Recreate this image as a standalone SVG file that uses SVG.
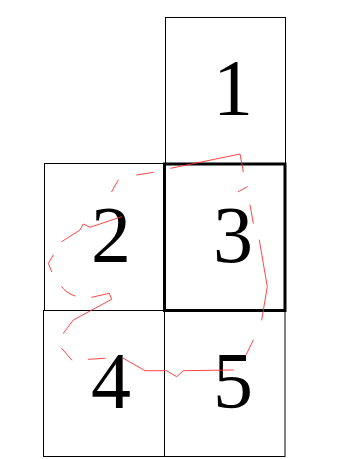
<svg xmlns="http://www.w3.org/2000/svg" width="345" height="459" viewBox="0 0 345 459">
<style>
.cell{fill:none;stroke:#000;stroke-width:1}
.thick{fill:none;stroke:#000;stroke-width:3}
.num{font-family:"Liberation Serif","Times New Roman",serif;font-size:80px;fill:#000;text-anchor:middle}
.scribble{fill:none;stroke:#ff3030;stroke-width:0.9;stroke-linecap:round;stroke-linejoin:round}
</style>
<rect width="345" height="459" fill="#fff"/>
<g id="node1"><rect class="cell" x="165.5" y="17.5" width="120" height="146"/><text class="num" x="233" y="115">1</text></g>
<g id="node2"><rect class="cell" x="44.5" y="163.5" width="120" height="147"/><text class="num" x="111" y="262">2</text></g>
<g id="node4"><rect class="cell" x="43.5" y="310.5" width="121" height="146"/><text class="num" x="111" y="408">4</text></g>
<g id="node5"><rect class="cell" x="164.5" y="310.5" width="120.5" height="146"/><text class="num" x="233" y="408">5</text></g>
<g id="node3"><rect class="thick" x="164.5" y="164" width="120.5" height="146.5"/><text class="num" x="233" y="262">3</text></g>
<g id="connectors">
<path class="scribble" d="M170.7,168.3 L240,154 L243.3,171.7 M238.3,191.7 L247.3,186.7 M250,205 L253.3,223.3 M259.3,240 L267.3,286.7 L261.7,320 M253.3,340 L246,355 M233.3,370 L183.3,370.7 L176.7,376.7 L166.7,370.7 L145,370.7 L123.3,358.3 M105,358.3 L88.3,359.3 M71.7,360 L61.7,348.3 M63.3,333.3 L73.3,320 L111.7,299.3 L109.3,293.3 L91.7,297.3 M75,296 Q66,293 61.7,286.7 M51.7,271.7 L48.3,263.3 L53.3,255 M61.7,241.7 L80,230 L83.3,224 L90,227.3 L121.7,216.7 M111.7,191.7 L118.3,180 M136.7,175 L153.3,172.3"/>
</g>
</svg>
